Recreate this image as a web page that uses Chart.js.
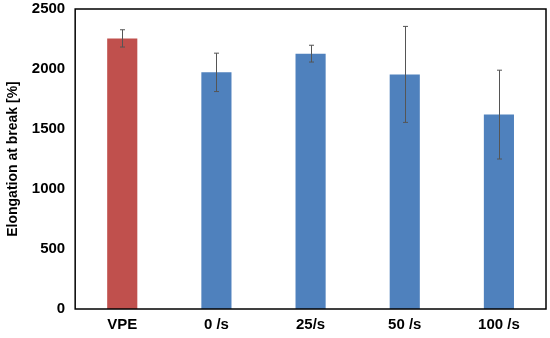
<!DOCTYPE html>
<html>
<head>
<meta charset="utf-8">
<script src="https://cdn.jsdelivr.net/npm/chart.js@4/dist/chart.umd.min.js"></script>
<style>
html, body { margin: 0; padding: 0; background: #fff; }
#wrap { width: 550px; height: 338px; }
</style>
</head>
<body>
<div id="wrap"><canvas id="c" width="550" height="338"></canvas></div>
<script>
var categories = ['VPE', '0 /s', '25/s', '50 /s', '100 /s'];
var elongation = [2255, 1972, 2128, 1955, 1620];
var errors = [72, 160, 70, 400, 370];
var yTicks = [0, 500, 1000, 1500, 2000, 2500];

var barColors = ['#C0504D', '#4F81BD', '#4F81BD', '#4F81BD', '#4F81BD'];
var font = 'Liberation Sans, Arial';

var frame = {
    id: 'frame',
    afterDatasetsDraw: function(chart){
        var ctx = chart.ctx, a = chart.chartArea;
        var xs = chart.scales.x, ys = chart.scales.y;
        // error bars
        ctx.save();
        ctx.strokeStyle = '#555';
        ctx.lineWidth = 1;
        elongation.forEach(function(v, i){
            var x = Math.round(xs.getPixelForValue(i)) + 0.5;
            var top = ys.getPixelForValue(v + errors[i]);
            var bot = ys.getPixelForValue(v - errors[i]);
            ctx.beginPath();
            ctx.moveTo(x, top); ctx.lineTo(x, bot);
            ctx.moveTo(x - 2.5, top); ctx.lineTo(x + 2.5, top);
            ctx.moveTo(x - 2.5, bot); ctx.lineTo(x + 2.5, bot);
            ctx.stroke();
        });
        // box around plot
        ctx.strokeStyle = '#000';
        ctx.lineWidth = 1.5;
        ctx.strokeRect(a.left, a.top, a.right - a.left, a.bottom - a.top);
        ctx.restore();
    }
};

new Chart(document.getElementById('c'), {
    type: 'bar',
    data: {
        labels: categories,
        datasets: [{ data: elongation, backgroundColor: barColors, borderWidth: 0, barPercentage: 0.32, categoryPercentage: 1 }]
    },
    options: {
        responsive: false,
        animation: false,
        layout: { padding: { top: 9, right: 4, left: 5, bottom: 4 } },
        plugins: { legend: { display: false }, tooltip: { enabled: false } },
        scales: {
            x: {
                afterFit: function(s){ s.height = 25; s.paddingLeft = 0; s.paddingRight = 0; },
                grid: { display: false, drawTicks: false },
                border: { display: false },
                ticks: { color: '#000', font: { family: font, size: 15, weight: 'bold' }, padding: 7 }
            },
            y: {
                min: 0, max: 2500,
                afterBuildTicks: function(s){ s.ticks = yTicks.map(function(v){ return { value: v }; }); },
                afterFit: function(s){ s.paddingTop = 0; s.paddingBottom = 0; },
                grid: { display: false, drawTicks: false },
                border: { display: false },
                ticks: { color: '#000', font: { family: font, size: 15, weight: 'bold' }, padding: 10, callback: function(v){ return String(v); } },
                title: { display: true, text: 'Elongation at break [%]', color: '#000', font: { family: font, size: 14, weight: 'bold' }, padding: { top: 0, bottom: 0 } }
            }
        }
    },
    plugins: [frame]
});
</script>
</body>
</html>
